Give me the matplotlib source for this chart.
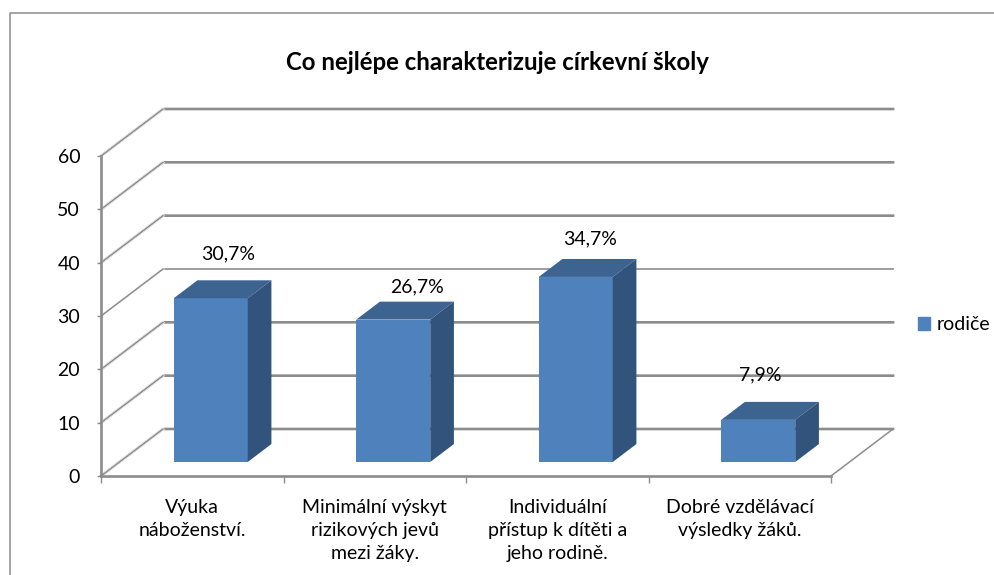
#!/usr/bin/env python

from matplotlib import pyplot as plt
from matplotlib.lines import Line2D
from matplotlib.patches import Patch
import numpy as np

categories = ['Výuka\nnáboženství.',
              'Minimální výskyt\nrizikových jevů\nmezi žáky.',
              'Individuální\npřístup k dítěti a\njeho rodině.',
              'Dobré vzdělávací\nvýsledky žáků.']
values = [30.7, 26.7, 34.7, 7.9]
labels = ['30,7%', '26,7%', '34,7%', '7,9%']
yticks = [0, 10, 20, 30, 40, 50, 60]
series_name = 'rodiče'

W, H = 994, 575
GRAY = '#8c8c8c'
FRONT, TOP, SIDE = '#4f81bd', '#3d6391', '#32547c'

# 3d look: how far the back wall is shifted from the front plane
DX = 62 / 182.5   # in categories
DY = 47 / (320 / 60)  # in value units
BAR_W = 74 / 182.5
D0, D1 = 0.298, 0.68  # depth of bar front and back

plt.rcParams['font.family'] = ['Lato', 'DejaVu Sans']
plt.rcParams['font.size'] = 14

fig = plt.figure(figsize=(W / 100, H / 100), dpi=100)
ax = fig.add_axes([101 / W, (H - 476) / H, 730 / W, 320 / H])
ax.set_xlim(-0.5, 3.5)
ax.set_ylim(0, 60)
ax.patch.set_alpha(0)

# walls and floor
for v in yticks:
    lw = 1.2 if v == 30 else 1.9
    ax.plot([-0.5, -0.5 + DX, 3.5 + DX], [v, v + DY, v + DY], color=GRAY, lw=lw,
            clip_on=False, zorder=1, solid_joinstyle='miter')
    ax.plot([-0.5, -0.5 + DX], [v, v + DY], color='white', lw=1.9, clip_on=False, zorder=1.1)
    ax.plot([-0.5, -0.5 + DX], [v, v + DY], color=GRAY, lw=1.1, clip_on=False, zorder=1.2)
ax.plot([3.5, 3.5 + DX], [0, DY], color=GRAY, lw=1.1, clip_on=False, zorder=1)

# bars
xs = np.arange(len(values))
for x, v in zip(xs, values):
    l = x - BAR_W / 2 + D0 * DX
    r = l + BAR_W
    y0 = D0 * DY
    y1 = y0 + v
    sx = (D1 - D0) * DX
    sy = (D1 - D0) * DY
    ax.bar(l + BAR_W / 2, v, width=BAR_W, bottom=y0, color=FRONT, clip_on=False, zorder=3)
    ax.fill([l, r, r + sx, l + sx], [y1, y1, y1 + sy, y1 + sy], color=TOP, lw=0, clip_on=False, zorder=3)
    ax.fill([r, r + sx, r + sx, r], [y0, y0 + sy, y1 + sy, y1], color=SIDE, lw=0, clip_on=False, zorder=3)

# data labels were moved by hand in the original, so offsets are in pixels
label_dx = [17, 24, 14.5, 2]
label_dy = [44, 32.5, 38, 45]
for x, v, t, ox, oy in zip(xs, values, labels, label_dx, label_dy):
    ax.annotate(t, (x + D0 * DX, D0 * DY + v), xytext=(ox * 0.72, oy * 0.72),
                textcoords='offset points', ha='center', va='center',
                fontsize=14, color='black', zorder=5, annotation_clip=False)

# axes
for s in ['top', 'right']:
    ax.spines[s].set_visible(False)
for s in ['left', 'bottom']:
    ax.spines[s].set_color(GRAY)
    ax.spines[s].set_linewidth(1.9)
    ax.spines[s].set_zorder(2)
ax.set_yticks(yticks)
ax.tick_params(axis='y', length=3, width=1, color=GRAY, pad=12, labelsize=14)
for t in ax.get_yticklabels():
    t.set_va('center_baseline')
ax.set_xticks(np.arange(-0.5, 4, 1))
ax.set_xticklabels([])
ax.tick_params(axis='x', which='major', length=5, width=1, color=GRAY)
ax.set_xticks(xs, minor=True)
ax.set_xticklabels(categories, minor=True, fontsize=14, linespacing=1.42, va='top')
ax.tick_params(axis='x', which='minor', length=0, pad=16.5)

fig.text(497 / W, 1 - 63 / H, 'Co nejlépe charakterizuje církevní školy',
         fontsize=17.3, fontweight='bold', ha='center', va='center')

fig.legend(handles=[Patch(color=FRONT, label=series_name)], loc='center left',
           bbox_to_anchor=(918 / W, 1 - 325 / H), frameon=False, fontsize=14,
           handlelength=0.62, handleheight=0.62, handletextpad=0.36,
           borderpad=0, borderaxespad=0)

# chart border, runs off the right and bottom of the picture
fig.add_artist(Line2D([9.5 / W, 9.5 / W, 1.01], [-0.01, 1 - 13 / H, 1 - 13 / H],
                      transform=fig.transFigure, color=GRAY, lw=1.1))

fig.savefig('out.png', dpi=100)
